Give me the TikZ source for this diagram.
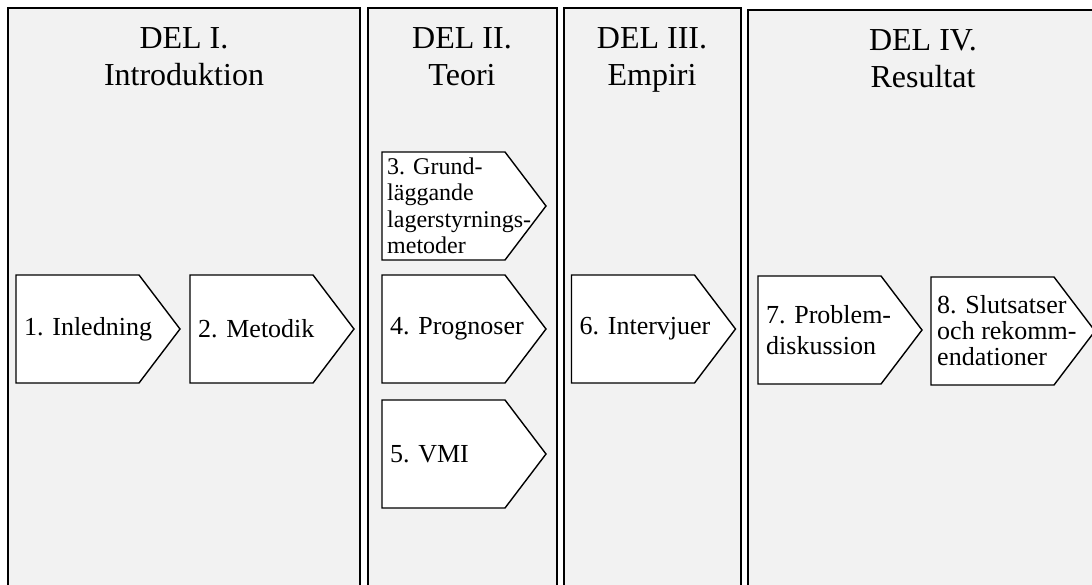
\documentclass[tikz,border=0pt]{standalone}
\usepackage{fontspec}
\setmainfont{Liberation Serif}
\definecolor{panelgray}{HTML}{F2F2F2}
\tikzset{
  panelbg/.style={fill=panelgray},
  panelline/.style={draw=black, line width=2pt, line join=miter},
  title/.style={align=center, inner sep=0pt, anchor=north,
    font=\fontsize{32}{37}\selectfont},
  chev/.style={draw=black, fill=white, line width=1.4pt, line join=miter},
  chevtext/.style={align=left, inner sep=0pt, anchor=west,
    font=\fontsize{26}{27}\selectfont},
}
% \arrowbox[text options]{name}{left x}{top y}{text}: a pentagon arrow 164 wide, 108 high
\newcommand\arrowbox[5][]{%
  \draw[chev] (#3,#4) -- ++(123,0) -- ++(41,54) -- ++(-41,54) -- ++(-123,0) -- cycle;
  \node[chevtext,#1] (#2) at (#3+8,#4+54) {#5};%
}
% \partpanel{left x}{right x}{top y}: grey column, open at the bottom
\newcommand\partpanel[3]{%
  \fill[panelbg] (#1,#3) rectangle (#2,600);
  \draw[panelline] (#1,600) -- (#1,#3) -- (#2,#3) -- (#2,600);%
}
\begin{document}
\begin{tikzpicture}[x=1pt, y=-1pt]
  \useasboundingbox (0,0) rectangle (1092,585);
  \fill[white] (0,0) rectangle (1092,585);

  % the four parts
  \partpanel{8}{360}{8}
  \partpanel{367.5}{557}{8}
  \partpanel{564}{740.5}{8}
  \partpanel{747.5}{1100}{10}

  \node[title] (del1) at (184,27) {DEL I.\\Introduktion};
  \node[title] (del2) at (462,27) {DEL II.\\Teori};
  \node[title] (del3) at (652,27) {DEL III.\\Empiri};
  \node[title] (del4) at (923,29) {DEL IV.\\Resultat};

  % chapters
  \arrowbox{c1}{16}{275}{1. Inledning}
  \arrowbox{c2}{190}{275}{2. Metodik}
  \arrowbox[xshift=-3pt, font=\fontsize{24}{26.5}\selectfont]{c3}{382}{152}{3. Grund-\\läggande\\lagerstyrnings-\\metoder}
  \arrowbox{c4}{382}{275}{4. Prognoser}
  \arrowbox{c5}{382}{400}{5. VMI}
  \arrowbox{c6}{571.5}{275}{6. Intervjuer}
  \arrowbox[font=\fontsize{26}{31}\selectfont]{c7}{758}{276}{7. Problem-\\diskussion}
  \arrowbox[xshift=-2pt, font=\fontsize{26}{26}\selectfont]{c8}{931}{277}{8. Slutsatser\\och rekomm-\\endationer}
\end{tikzpicture}
\end{document}
